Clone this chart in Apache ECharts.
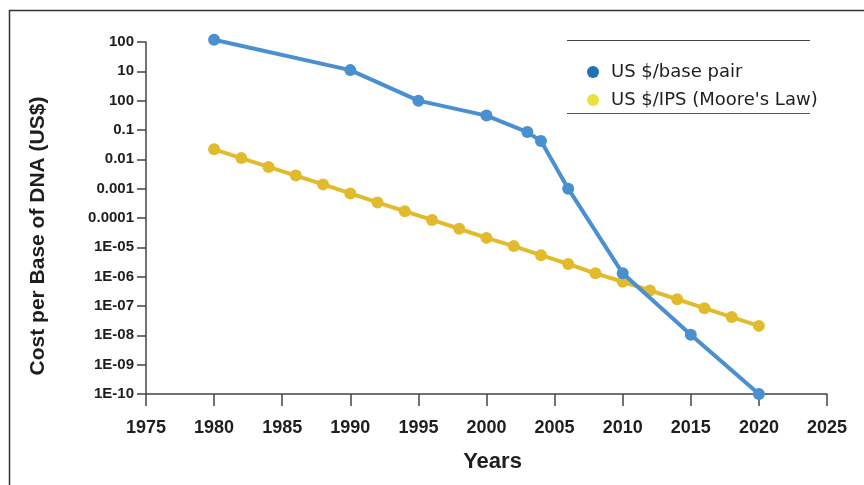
<!DOCTYPE html>
<html>
<head>
<meta charset="utf-8">
<script src="https://cdn.jsdelivr.net/npm/echarts@6/dist/echarts.min.js"></script>
<style>
  html, body { margin: 0; padding: 0; background: #fff; }
  #chart { width: 864px; height: 485px; }
</style>
</head>
<body>
<div id="chart"></div>
<script>
// Cost of sequencing one DNA base pair versus Moore's Law cost trend
const dnaYears  = [1980, 1990, 1995, 2000, 2003, 2004, 2006, 2010, 2015, 2020];
const dnaCost   = [120, 11, 1, 0.31, 0.085, 0.042, 0.001, 1.3e-6, 1.05e-8, 1e-10];

const mooreYears = [1980, 1982, 1984, 1986, 1988, 1990, 1992, 1994, 1996, 1998, 2000,
                    2002, 2004, 2006, 2008, 2010, 2012, 2014, 2016, 2018, 2020];
const mooreCost  = [0.022, 0.011, 0.0055, 0.0028, 0.0014, 0.00069, 0.00034, 0.00017,
                    8.6e-5, 4.3e-5, 2.1e-5, 1.1e-5, 5.4e-6, 2.7e-6, 1.3e-6, 6.7e-7,
                    3.4e-7, 1.7e-7, 8.4e-8, 4.2e-8, 2.1e-8];

// Tick labels on the cost axis, keyed by power of ten
const yTickExp    = [2, 1, 0, -1, -2, -3, -4, -5, -6, -7, -8, -9, -10];
const yTickLabels = ['100', '10', '100', '0.1', '0.01', '0.001', '0.0001',
                     '1E-05', '1E-06', '1E-07', '1E-08', '1E-09', '1E-10'];

const seriesNames = ['US $/base pair', "US $/IPS (Moore's Law)"];
const xTitle = 'Years';
const yTitle = 'Cost per Base of DNA (US$)';

const SANS = '"Liberation Sans", Arial, Helvetica, sans-serif';
const WIDE = '"DejaVu Sans", Verdana, sans-serif';
const axisColor = '#444';
const textColor = '#1e1e1e';

const chart = echarts.init(document.getElementById('chart'), null, { renderer: 'canvas' });

function zip(xs, ys) { return xs.map((x, i) => [x, ys[i]]); }

chart.setOption({
  animation: false,
  backgroundColor: '#fff',
  grid: { left: 146, right: 37, top: 42, bottom: 91, containLabel: false },
  xAxis: {
    type: 'value', min: 1975, max: 2025, interval: 5,
    name: xTitle, nameLocation: 'middle', nameGap: 57,
    nameTextStyle: { fontFamily: SANS, fontWeight: 'bold', fontSize: 22, color: textColor, padding: [0, 0, 0, 12] },
    axisLine: { show: true, lineStyle: { color: axisColor, width: 1.5 } },
    axisTick: { show: true, length: 12, lineStyle: { color: axisColor, width: 1.5 } },
    axisLabel: {
      fontFamily: SANS, fontWeight: 'bold', fontSize: 18, color: textColor, margin: 25,
      formatter: function (v) { return String(v); }
    },
    splitLine: { show: false }
  },
  yAxis: {
    type: 'log', logBase: 10, min: 1e-10, max: 100, interval: 1, splitNumber: 12,
    axisLine: { show: true, lineStyle: { color: axisColor, width: 1.5 } },
    axisTick: { show: true, length: 9, lineStyle: { color: axisColor, width: 1.5 } },
    axisLabel: {
      fontFamily: SANS, fontWeight: 'bold', fontSize: 15, color: textColor, margin: 12,
      formatter: function (v) {
        const e = Math.round(Math.log10(v));
        const i = yTickExp.indexOf(e);
        return i >= 0 ? yTickLabels[i] : '';
      }
    },
    splitLine: { show: false }
  },
  legend: {
    orient: 'vertical', left: 587, top: 63, padding: 0,
    itemWidth: 26, itemHeight: 12, itemGap: 10,
    textStyle: { fontFamily: WIDE, fontSize: 18, color: textColor },
    data: [
      { name: seriesNames[0], icon: 'circle', itemStyle: { color: '#1f70b6' } },
      { name: seriesNames[1], icon: 'circle', itemStyle: { color: '#e9e23c' } }
    ]
  },
  graphic: [
    // frame around the figure
    { type: 'line', shape: { x1: 9, y1: 10.5, x2: 864, y2: 10.5 }, style: { stroke: '#333', lineWidth: 1.5 } },
    { type: 'line', shape: { x1: 9.5, y1: 10, x2: 9.5, y2: 485 }, style: { stroke: '#333', lineWidth: 1.5 } },
    // rules above and below the legend
    { type: 'line', shape: { x1: 567, y1: 40.5, x2: 810, y2: 40.5 }, style: { stroke: '#444', lineWidth: 1.2 } },
    { type: 'line', shape: { x1: 567, y1: 113.5, x2: 810, y2: 113.5 }, style: { stroke: '#555', lineWidth: 1.2 } },
    // vertical title of the cost axis
    {
      type: 'text', x: 38, y: 236, rotation: Math.PI / 2,
      style: {
        text: yTitle, fill: textColor, font: 'bold 21px ' + SANS,
        align: 'center', verticalAlign: 'middle'
      }
    }
  ],
  series: [
    {
      name: seriesNames[0], type: 'line', data: zip(dnaYears, dnaCost),
      symbol: 'circle', symbolSize: 12, clip: false,
      itemStyle: { color: '#4a8fd0' },
      lineStyle: { color: '#4a8fd0', width: 4 },
      z: 3
    },
    {
      name: seriesNames[1], type: 'line', data: zip(mooreYears, mooreCost),
      symbol: 'circle', symbolSize: 12, clip: false,
      itemStyle: { color: '#e2bb2c' },
      lineStyle: { color: '#e2bb2c', width: 4 },
      z: 2
    }
  ]
});
</script>
</body>
</html>
